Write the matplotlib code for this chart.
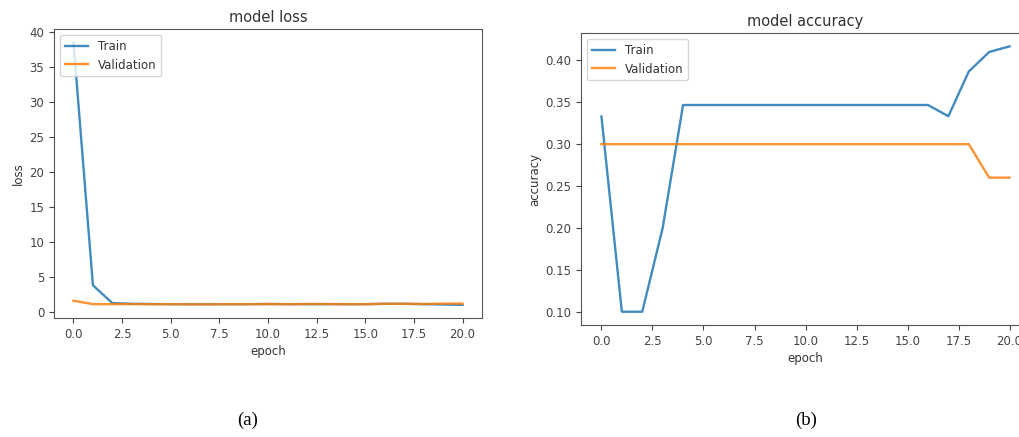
import matplotlib
matplotlib.use("Agg")
import matplotlib.pyplot as plt

epochs = list(range(21))

train_loss = [38.6, 3.8, 1.25, 1.15, 1.12, 1.1, 1.1, 1.1, 1.1, 1.1, 1.12,
              1.1, 1.1, 1.1, 1.1, 1.1, 1.15, 1.15, 1.1, 1.05, 1.0]
val_loss = [1.6, 1.1, 1.1, 1.12, 1.1, 1.1, 1.08, 1.08, 1.1, 1.1, 1.12,
            1.1, 1.12, 1.12, 1.1, 1.1, 1.15, 1.15, 1.12, 1.18, 1.18]

train_acc = [0.333, 0.1, 0.1, 0.2, 0.3467, 0.3467, 0.3467, 0.3467, 0.3467,
             0.3467, 0.3467, 0.3467, 0.3467, 0.3467, 0.3467, 0.3467, 0.3467,
             0.3333, 0.3867, 0.41, 0.4167]
val_acc = [0.3] * 19 + [0.26, 0.26]

plt.rcParams["font.family"] = "DejaVu Sans"
plt.rcParams["font.size"] = 8.5
plt.rcParams["text.color"] = "#333333"
plt.rcParams["axes.labelcolor"] = "#333333"
plt.rcParams["xtick.color"] = "#444444"
plt.rcParams["ytick.color"] = "#444444"
plt.rcParams["axes.edgecolor"] = "#555555"
plt.rcParams["lines.linewidth"] = 1.7

fig = plt.figure(figsize=(10.19, 4.37), dpi=100)

# (a) loss
ax1 = fig.add_axes([0.053, 0.2723, 0.420, 0.6613])
ax1.plot(epochs, train_loss, label="Train", alpha=0.85)
ax1.plot(epochs, val_loss, label="Validation", alpha=0.85)
ax1.set_title("model loss", fontsize=10.5, pad=5)
ax1.set_ylabel("loss", labelpad=3)
ax1.set_xlabel("epoch", labelpad=3)
ax1.legend(loc="upper left", fontsize=8.5)

# (b) accuracy
ax2 = fig.add_axes([0.5702, 0.2563, 0.4406, 0.668])
ax2.plot(epochs, train_acc, label="Train", alpha=0.85)
ax2.plot(epochs, val_acc, label="Validation", alpha=0.85)
ax2.set_title("model accuracy", fontsize=10.5, pad=5)
ax2.set_ylabel("accuracy", labelpad=3)
ax2.set_xlabel("epoch", labelpad=3)
ax2.legend(loc="upper left", fontsize=8.5)

fig.text(248 / 1019, 1 - 420 / 437, "(a)", ha="center", va="center",
         family="Liberation Serif", fontsize=13.5, color="black")
fig.text(806 / 1019, 1 - 420 / 437, "(b)", ha="center", va="center",
         family="Liberation Serif", fontsize=13.5, color="black")

fig.savefig("out.png", dpi=100)
